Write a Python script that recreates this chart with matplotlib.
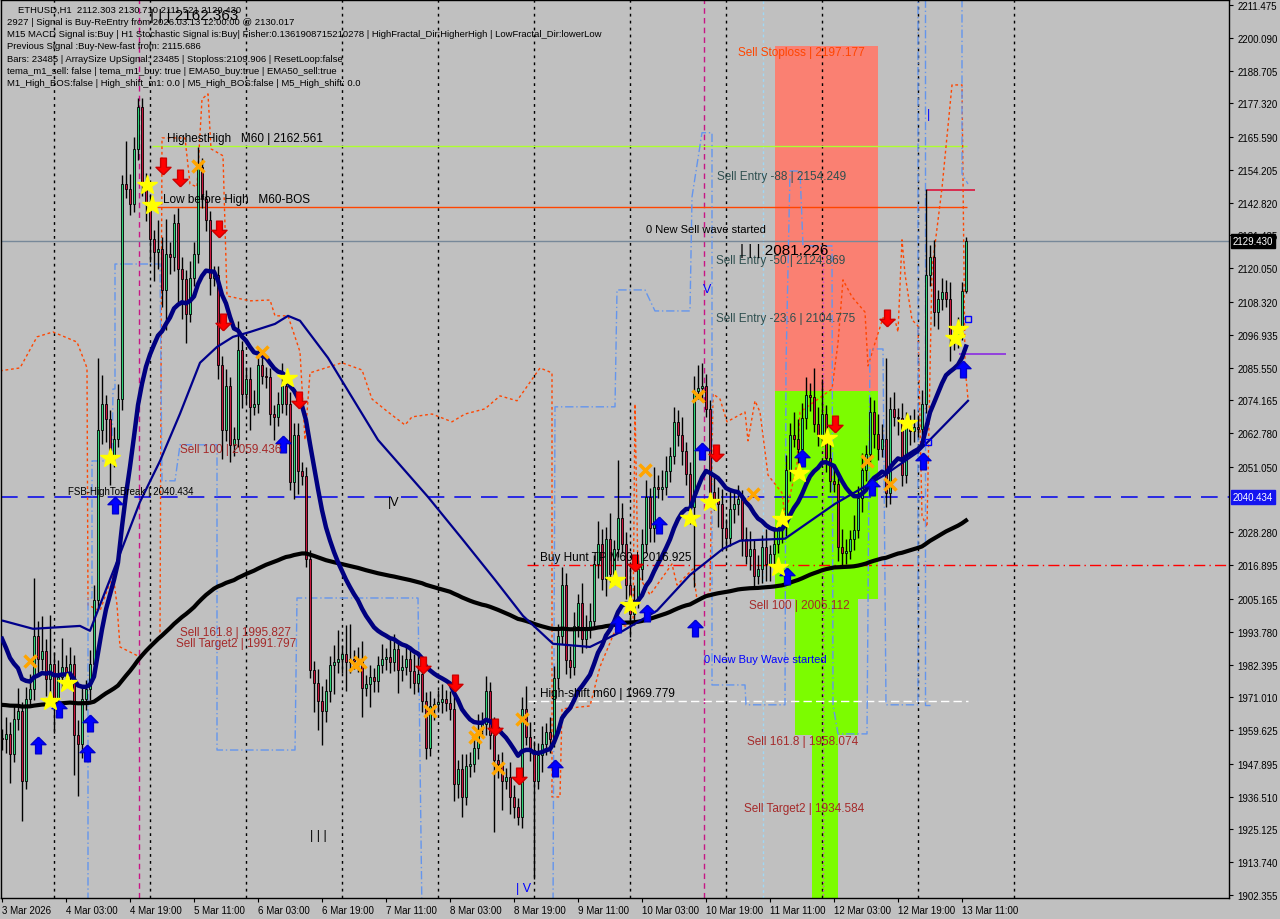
import numpy as np
import pandas as pd
import matplotlib
matplotlib.use('Agg')
import matplotlib.pyplot as plt
import matplotlib.transforms as mtransforms
from matplotlib.patches import Rectangle

plt.rcParams['font.family'] = ['Liberation Sans', 'DejaVu Sans']

BG = '#C0C0C0'

# ETHUSD H1 - first bar on the chart is 3 Mar 2026 11:00
start_time = '2026-03-03 11:00'
first_open = 1957.0

closes = [
    1956.6, 1958.3, 1951.4, 1963.5, 1966.3, 1942.0, 1970.5, 1974.0, 1992.4, 1984.4,
    1987.2, 1977.4, 1982.6, 1970.5, 1978.1, 1981.6, 1979.2, 1982.6, 1958.0, 1954.9,
    1970.5, 1974.0, 1982.6, 2004.9, 2063.9, 2072.9, 2067.7, 2054.9, 2060.8, 2074.7,
    2149.3, 2147.6, 2142.4, 2161.5, 2176.1, 2150.0, 2142.4, 2130.2, 2125.7, 2126.8,
    2112.5, 2125.0, 2124.0, 2135.8, 2119.8, 2116.4, 2104.2, 2116.7, 2125.0, 2155.3,
    2144.1, 2136.8, 2116.7, 2117.7, 2086.5, 2063.9, 2079.2, 2058.7, 2060.8, 2091.7,
    2076.4, 2081.6, 2071.9, 2072.9, 2086.5, 2082.7, 2082.3, 2069.5, 2068.4, 2072.9,
    2079.2, 2072.9, 2045.9, 2062.2, 2049.7, 2047.9, 2019.1, 1980.6, 1976.0, 1969.8,
    1966.3, 1973.3, 1982.3, 1983.3, 1984.4, 1986.1, 1983.3, 1984.4, 1983.7, 1984.4,
    1974.3, 1975.7, 1978.1, 1976.7, 1982.3, 1984.4, 1985.1, 1983.3, 1987.9, 1980.6,
    1981.6, 1984.4, 1980.2, 1976.0, 1979.2, 1969.8, 1953.5, 1968.1, 1968.8, 1969.5,
    1970.5, 1969.1, 1967.0, 1941.0, 1946.2, 1936.5, 1947.2, 1947.9, 1953.5, 1960.1,
    1961.8, 1973.3, 1958.0, 1949.3, 1947.9, 1942.0, 1943.4, 1936.5, 1933.0, 1929.5,
    1967.0, 1957.3, 1952.8, 1942.0, 1951.0, 1954.9, 1959.0, 1956.6, 1977.8, 1992.4,
    2010.1, 1984.0, 1981.6, 1995.8, 2003.8, 1991.3, 1995.5, 1997.6, 2017.4, 2024.3,
    2012.2, 2026.1, 2013.9, 2022.6, 2033.4, 2024.3, 2010.1, 2000.0, 2004.9, 2015.6,
    2024.3, 2040.6, 2029.9, 2044.1, 2043.4, 2044.1, 2049.7, 2054.9, 2066.7, 2062.2,
    2056.6, 2048.6, 2037.2, 2077.5, 2078.5, 2079.2, 2071.2, 2042.4, 2039.9, 2038.2,
    2029.9, 2026.4, 2036.5, 2038.2, 2039.9, 2026.1, 2020.2, 2022.6, 2013.2, 2015.6,
    2023.3, 2017.4, 2020.8, 2024.3, 2029.5, 2030.2, 2050.0, 2062.2, 2060.8, 2057.3,
    2068.1, 2076.1, 2075.4, 2066.0, 2062.2, 2069.5, 2054.2, 2046.2, 2045.2, 2023.3,
    2021.2, 2021.9, 2026.1, 2029.2, 2040.3, 2050.0, 2055.6, 2070.2, 2062.5, 2057.3,
    2060.8, 2042.0, 2071.2, 2068.4, 2068.1, 2048.3, 2066.0, 2063.6, 2065.0, 2064.3,
    2072.9, 2117.7, 2124.0, 2104.9, 2109.4, 2111.8, 2109.4, 2095.9, 2095.5, 2099.0,
    2112.3, 2129.43,
]

# wick length above / below the body, in price units
wick_up = [
    3, 6, 4, 5, 8, 3, 4, 5, 20, 5, 12, 4, 17, 4, 6, 10, 4, 6, 3, 5,
    4, 3, 5, 5, 25, 10, 3, 3, 4, 5, 3, 15, 5, 4, 3, 3, 3, 3, 3, 10,
    4, 12, 4, 3, 5, 4, 3, 6, 4, 7, 3, 3, 3, 3, 3, 3, 6, 3, 4, 10,
    3, 4, 4, 5, 6, 4, 3, 3, 3, 4, 8, 3, 4, 4, 4, 3, 3, 3, 3, 5,
    5, 4, 3, 6, 10, 3, 10, 12, 3, 4, 6, 3, 4, 3, 3, 5, 3, 6, 5, 3,
    4, 5, 3, 6, 6, 4, 3, 5, 2, 4, 5, 3, 4, 6, 3, 5, 4, 4, 3, 5,
    4, 5, 3, 6, 2, 4, 3, 5, 4, 3, 4, 8, 5, 3, 4, 6, 3, 5, 4, 4,
    6, 4, 5, 5, 3, 7, 4, 6, 3, 8, 5, 4, 9, 3, 20, 5, 4, 6, 5, 3,
    5, 6, 3, 7, 4, 6, 5, 3, 5, 4, 6, 3, 4, 5, 8, 8, 4, 3, 6, 4,
    5, 3, 6, 4, 5, 3, 4, 6, 3, 5, 4, 6, 3, 5, 4, 6, 5, 4, 8, 7,
    5, 6, 4, 10, 6, 12, 3, 5, 4, 3, 6, 4, 3, 5, 4, 6, 3, 5, 4, 7,
    5, 28, 4, 6, 3, 5, 4, 3, 6, 4, 5, 30, 4, 6, 3, 5, 4, 6, 3, 4,
    3, 1.3,
]
wick_dn = [
    4, 5, 10, 3, 4, 14, 3, 3, 4, 6, 4, 6, 5, 12, 3, 4, 4, 5, 14, 18,
    5, 4, 4, 3, 3, 5, 8, 10, 4, 3, 4, 3, 4, 3, 4, 5, 6, 8, 10, 6,
    6, 14, 6, 5, 12, 14, 10, 3, 3, 3, 3, 4, 6, 3, 5, 10, 4, 6, 4, 3,
    5, 3, 8, 3, 3, 3, 4, 4, 8, 3, 3, 4, 3, 6, 8, 3, 3, 3, 10, 10,
    12, 4, 4, 10, 4, 5, 10, 4, 3, 4, 10, 3, 8, 4, 4, 3, 4, 4, 3, 8,
    4, 3, 6, 4, 3, 4, 4, 3, 5, 3, 4, 3, 4, 6, 5, 7, 3, 4, 3, 4,
    3, 4, 5, 25, 5, 10, 3, 6, 4, 3, 4, 3, 4, 34, 3, 6, 4, 5, 3, 4,
    3, 5, 4, 3, 4, 5, 3, 4, 3, 5, 4, 6, 3, 4, 3, 3, 5, 8, 4, 3,
    4, 3, 5, 5, 3, 4, 3, 4, 3, 4, 5, 4, 6, 28, 3, 4, 3, 5, 4, 8,
    8, 4, 3, 5, 4, 6, 3, 5, 4, 3, 5, 6, 6, 4, 3, 5, 3, 4, 3, 5,
    3, 4, 5, 3, 4, 3, 5, 4, 3, 5, 5, 4, 3, 4, 3, 5, 4, 3, 5, 4,
    3, 5, 4, 3, 6, 4, 3, 5, 4, 3, 6, 3, 4, 5, 6, 4, 3, 8, 4, 3,
    4, 0.8,
]
assert len(closes) == len(wick_up) == len(wick_dn)

ema_fast_span, ema_fast_seed = 20, 1995.0
ema_slow_span, ema_slow_seed = 200, 1968.5

# slower MA (thin navy), bar / price
slow_ma_bar = [0.25, 7.75, 19.5, 22, 24.5, 29.5, 34.5, 39.5, 44.5, 49.5, 53.75, 57.75, 62, 68.25,
               71.5, 74.5, 81.5, 94, 106.5, 115, 123.25, 130.25, 137.75, 147, 155.25, 163.75, 172,
               180.25, 184.5, 195.75, 208.25, 220.75, 229, 241.5]
slow_ma_val = [1997.6, 1994.8, 1995.8, 1994.1, 2003.1, 2020.8, 2038.9, 2053.1, 2069.5, 2087.2,
               2092.7, 2096.2, 2097.9, 2100.7, 2103.5, 2101.8, 2088.9, 2060.4, 2040.6, 2026.1,
               2011.8, 1999.3, 1989.6, 1988.5, 1994.1, 2001.1, 2013.5, 2022.6, 2025.4, 2026.1,
               2038.2, 2048.3, 2056.2, 2074.0]

# horizontal levels
bid = 2129.430
highest_high = 2162.561
low_before_high = 2141.3
fsb_level = 2040.434
buy_hunt_tp = 2016.895
high_shift = 1969.779
crimson_level = 2147.3
purple_level = 2090.3

# signal zones: bar from, bar to, price low, price high
zone_b0 = [193.25, 193.25, 198.25, 202.5]
zone_b1 = [219.0, 219.0, 214.0, 209.0]
zone_lo = [2077.4, 2005.112, 1958.074, 1890.0]
zone_hi = [2197.177, 2077.4, 2005.112, 1958.074]
zone_col = ['#FA8072', '#7CFC00', '#7CFC00', '#7CFC00']

# channel line (orange-red dotted), bar / price
chan_bar = [-0.5, 4.5, 8.75, 12.75, 18.75, 21.25, 21.5, 24.5, 27.75, 28.75, 29.5, 34.5, 37, 39.5,
            40, 45.75, 47, 48.75, 50, 51.5, 52.25, 55.25, 56.25, 62, 67, 68.25, 71.5, 74.5, 75.75,
            77, 85, 90, 92.5, 96.5, 100.75, 102.5, 107.5, 112.5, 115.75, 120.75, 124.5, 128.75,
            134.5, 137.5, 137.5, 139.5, 140, 147, 149.5, 153.75, 157.75, 158.25, 159, 162, 167.5,
            168.75, 172.75, 173.75, 177, 177.75, 179.5, 181.25, 185.75, 186.5, 188.25, 189.5,
            191.5, 195, 195.75, 197.5, 198.75, 199.5, 207.5, 209, 210.25, 212.5, 215.75, 216.5,
            218.25, 220.25, 223.25, 224, 225, 225.75, 227.5, 229, 230, 231.25, 232.5, 235, 237.5,
            240, 240.75, 241.5]
chan_val = [2084.4, 2085.4, 2096.2, 2097.9, 2094.4, 2085.4, 2003.1, 2001.0, 2013.9, 2003.1, 1988.5,
            1985.0, 1988.5, 1992.3, 2165.3, 2165.3, 2149.3, 2148.3, 2178.8, 2180.6, 2161.5, 2159.1,
            2110.4, 2108.7, 2109.0, 2103.5, 2103.5, 2091.0, 2060.4, 2083.7, 2087.2, 2084.7, 2074.6,
            2070.1, 2065.6, 2068.4, 2069.4, 2066.7, 2069.4, 2071.2, 2075.7, 2074.0, 2085.4, 2083.7,
            1936.4, 1936.4, 1967.0, 1968.0, 1981.6, 1995.8, 1995.8, 2072.9, 2013.5, 2006.6, 2017.3,
            2010.0, 2015.6, 2004.8, 2007.3, 2076.4, 2074.6, 2066.7, 2070.1, 2060.1, 2074.0, 2070.1,
            2048.2, 2042.0, 2034.0, 2044.1, 2052.1, 2070.1, 2078.1, 2094.1, 2116.0, 2110.1, 2104.8,
            2086.1, 2094.1, 2102.8, 2102.1, 2097.9, 2129.9, 2118.0, 2102.1, 2100.0, 2034.0, 2030.2,
            2119.8, 2147.9, 2183.7, 2183.7, 2086.1, 2074.6]

# step line (light blue dash-dot), segments of bar / price
step_bar = [[21.5, 21.5, 22.5, 22.5, 27.5, 27.75, 28.25, 28.25, 39.5, 40, 43.25, 44.5, 53.75, 53.75,
             73.25, 73.75, 104, 105],
            [137.75, 138.25, 153.25, 153.75, 160.75, 163.25, 172, 172.5, 175, 177.5, 177.5, 185.75,
             186, 195.75, 196, 197, 199.5, 200.25, 207.5, 207.75, 209, 216.25, 217, 220.25, 221,
             229, 229],
            [230.75, 230.75, 232],
            [240, 240, 241.5]]
step_val = [[1895, 2005.5, 2005.5, 2053.1, 2053.1, 2078.1, 2078.1, 2121.5, 2121.5, 2046.2, 2046.2,
             2058.7, 2058.7, 1952.7, 1952.7, 2005.5, 2005.5, 1895],
            [1895, 2071.9, 2071.9, 2112.5, 2112.5, 2105.2, 2105.2, 2144.8, 2167.1, 2167.1, 1975.3,
             1975.3, 1968.4, 1968.4, 2086.1, 2153.8, 2153.8, 2127.8, 2127.8, 1968.4, 1958.3,
             1958.3, 2092.0, 2092.0, 1968.4, 1968.4, 2220],
            [2220, 1968.4, 1968.4],
            [2220, 2152.8, 2149.3]]

# signal markers, bar / price
star_bar = [12, 16.25, 27, 36.25, 37.5, 71.25, 153.25, 157, 172, 177, 194, 195, 199.25, 206.25,
            226.25, 238.25, 239]
star_val = [1969.7, 1976.0, 2054.2, 2149.0, 2142.0, 2082.0, 2011.8, 2003.1, 2033.3, 2038.9, 2016.3,
            2033.0, 2049.0, 2061.1, 2066.3, 2095.8, 2098.9]
cross_bar = [7, 49, 65, 88.25, 89.5, 107, 118.25, 119, 124, 130, 160.75, 174, 187.75, 216.25, 222]
cross_val = [1983.6, 2155.6, 2091.0, 1982.3, 1983.3, 1966.3, 1957.2, 1959.0, 1946.5, 1963.5, 2050.0,
             2075.7, 2041.6, 2053.1, 2045.1]
sell_bar = [40.25, 44.5, 54.25, 55.25, 74.25, 105.25, 113.25, 123.25, 129.25, 158.25, 178.5, 208.25,
            221.25]
sell_val = [2155.6, 2151.4, 2133.7, 2101.4, 2074.3, 1982.3, 1976.0, 1960.7, 1943.7, 2017.7, 2055.9,
            2066.0, 2102.8]
buy_bar = [9, 14.25, 22, 21.25, 28.25, 70.25, 138.25, 154, 161.25, 164.25, 173.25, 175, 196.25, 200,
           217.5, 230.25, 240.25]
buy_val = [1954.5, 1967.0, 1962.1, 1951.7, 2037.8, 2059.0, 1946.5, 1996.5, 2000.3, 2030.9, 1995.1,
           2056.6, 2013.2, 2054.2, 2044.1, 2053.1, 2085.1]
box_bar = [231.5, 241.5]
box_val = [2059.7, 2102.4]

# vertical markers
magenta_bars = [34.25, 175.5]
cyan_bar = 190.25
violet_bar = 205.25

# right scale (the 2039.665 step sits under the FSB price box)
yticks = [2211.475, 2200.090, 2188.705, 2177.320, 2165.590, 2154.205, 2142.820, 2131.435, 2120.050,
          2108.320, 2096.935, 2085.550, 2074.165, 2062.780, 2051.050, 2028.280, 2016.895,
          2005.165, 1993.780, 1982.395, 1971.010, 1959.625, 1947.895, 1936.510, 1925.125, 1913.740,
          1902.355]

header = [
    'ETHUSD,H1  2112.303 2130.710 2111.521 2129.430',
    '2927 | Signal is Buy-ReEntry from 2026.03.13 12:00:00 @ 2130.017',
    'M15 MACD Signal is:Buy | H1 Stochastic Signal is:Buy| Fisher:0.1361908715210278 | '
    'HighFractal_Dir:HigherHigh | LowFractal_Dir:lowerLow',
    'Previous Signal :Buy-New-fast from: 2115.686',
    'Bars: 23485 | ArraySize UpSignal: 23485 | Stoploss:2109.906 | ResetLoop:false',
    'tema_m1_sell: false | tema_m1_buy: true | EMA50_buy:true | EMA50_sell:true',
    'M1_High_BOS:false | High_shift_m1: 0.0 | M5_High_BOS:false | M5_High_shift: 0.0',
]

# zone / level labels: text, bar, price, colour
zone_labels = [
    ('Sell Stoploss | 2197.177', 184.0, 2197.177, '#FF4500'),
    ('Sell Entry -88 | 2154.249', 178.75, 2154.249, '#2F4F4F'),
    ('Sell Entry -50 | 2124.869', 178.5, 2124.869, '#2F4F4F'),
    ('Sell Entry -23.6 | 2104.775', 178.5, 2104.775, '#2F4F4F'),
    ('Sell 100 | 2059.436', 44.5, 2059.436, '#A52A2A'),
    ('Sell 161.8 | 1995.827', 44.5, 1995.827, '#A52A2A'),
    ('Sell Target2 | 1991.797', 43.5, 1991.797, '#A52A2A'),
    ('Sell 100 | 2005.112', 186.75, 2005.112, '#A52A2A'),
    ('Sell 161.8 | 1958.074', 186.25, 1958.074, '#A52A2A'),
    ('Sell Target2 | 1934.584', 185.5, 1934.584, '#A52A2A'),
]
line_labels = [
    ('HighestHigh   M60 | 2162.561', 41.25, highest_high, 8.5),
    ('Low before High   M60-BOS', 40.25, low_before_high, 8.5),
    ('FSB-HighToBreak | 2040.434', 16.5, fsb_level, 7),
    ('Buy Hunt TP M60 | 2016.925', 134.5, buy_hunt_tp, 8.5),
    ('High-shift m60 | 1969.779', 134.5, high_shift, 8.5),
]
misc_labels = [
    ('0 New Sell wave started', 161.0, 2133.7, 'black', 8),
    ('| | | 2081.226', 184.5, 2126.4, 'black', 11),
    ('0 New Buy Wave started', 175.5, 1984.3, '#0000FF', 8),
    ('| | | 2162.363', 37.0, 2208.0, 'black', 11),
    ('|V', 96.5, 2038.9, 'black', 9),
    ('| | |', 77.0, 1923.2, 'black', 9),
    ('| V', 128.5, 1904.8, '#0000FF', 9),
    ('V', 175.25, 2112.8, '#0000FF', 9),
    ('|', 231.25, 2173.6, '#0000FF', 9),
]


def ema(values, span, seed):
    alpha = 2.0 / (span + 1)
    out = []
    prev = seed
    for v in values:
        prev = prev + alpha * (v - prev)
        out.append(prev)
    return np.array(out)


n = len(closes)
idx = np.arange(n)
c = np.array(closes)
o = np.array([first_open] + closes[:-1])
hi = np.maximum(o, c) + np.array(wick_up)
lo = np.minimum(o, c) - np.array(wick_dn)
times = pd.date_range(start_time, periods=n + 13, freq='h')

fig = plt.figure(figsize=(12.8, 9.2), dpi=100, facecolor=BG)
ax = fig.add_axes([1 / 1280, 21 / 920, 1228 / 1280, 898 / 920])
ax.set_facecolor(BG)
ax.set_xlim(-0.25, 306.75)
ax.set_ylim(1901.3, 2213.2)

# zones
for b0, b1, p0, p1, col in zip(zone_b0, zone_b1, zone_lo, zone_hi, zone_col):
    ax.add_patch(Rectangle((b0, p0), b1 - b0, p1 - p0, facecolor=col, edgecolor='none', zorder=1))

# day separators
for i, t in enumerate(times):
    if t.hour == 0:
        ax.axvline(i, color='black', lw=1, ls=(0, (2, 3)), zorder=2)
for b in magenta_bars:
    ax.axvline(b, color='#C71585', lw=1, ls=(0, (4, 3)), zorder=2)
ax.axvline(cyan_bar, color='#9FD8F5', lw=1, ls=(0, (2, 2)), zorder=2)
ax.vlines(violet_bar, 1890, 2127.8, color='#DA44DA', lw=1, ls=(0, (1, 2)), zorder=2)

# horizontal levels
ax.axhline(bid, color='#778899', lw=1, zorder=2)
ax.axhline(fsb_level, color='#1010E8', lw=1.2, ls=(0, (10, 6)), zorder=2)
ax.hlines(highest_high, 37.5, 241.25, color='#ADFF2F', lw=1, zorder=2)
ax.hlines(low_before_high, 37.5, 241.25, color='#FF4500', lw=1, zorder=2)
ax.hlines(buy_hunt_tp, 131.25, 306.75, color='#FF0000', lw=1, ls=(0, (8, 3, 1, 3)), zorder=2)
ax.hlines(high_shift, 131.5, 241.5, color='white', lw=1, ls=(0, (6, 3)), zorder=2)
ax.hlines(crimson_level, 231.25, 243.25, color='#DC143C', lw=1.2, zorder=2)
ax.hlines(purple_level, 239.25, 251.0, color='#8A2BE2', lw=1.2, zorder=2)

# channel lines
ax.plot(chan_bar, chan_val, color='#FF4500', lw=1, ls=(0, (2, 2)), zorder=2)
for sb, sv in zip(step_bar, step_val):
    ax.plot(sb, sv, color='#6495ED', lw=1, ls=(0, (6, 2, 1, 2)), zorder=2)

# candles
up = c >= o
ax.vlines(idx, lo, hi, color='black', lw=1, zorder=3)
body_lo = np.minimum(o, c)
body_h = np.maximum(np.abs(c - o), 0.4)
ax.bar(idx[up], body_h[up], bottom=body_lo[up], width=0.7, color='#2ED47A',
       edgecolor='black', lw=0.6, zorder=4)
ax.bar(idx[~up], body_h[~up], bottom=body_lo[~up], width=0.7, color='#C8143C',
       edgecolor='black', lw=0.6, zorder=4)

# moving averages
ax.plot(idx, ema(closes, ema_slow_span, ema_slow_seed), color='black', lw=3, zorder=5)
ax.plot(slow_ma_bar, slow_ma_val, color='#00008B', lw=1.6, zorder=5)
ax.plot(idx, ema(closes, ema_fast_span, ema_fast_seed), color='#000080', lw=3.2, zorder=5)

# signal markers
up_arrow = [(0, 1), (-0.9, 0.1), (-0.35, 0.1), (-0.35, -1), (0.35, -1), (0.35, 0.1), (0.9, 0.1), (0, 1)]
down_arrow = [(x, -y) for x, y in up_arrow]
ax.plot(buy_bar, buy_val, ls='none', marker=up_arrow, ms=12, color='#0000FF', mec='#0000CC', zorder=7)
ax.plot(sell_bar, sell_val, ls='none', marker=down_arrow, ms=12, color='#FF0000', mec='#CC0000', zorder=7)
ax.plot(star_bar, star_val, ls='none', marker='*', ms=15, color='#FFFF00', mec='#FFFF00', zorder=7)
ax.plot(cross_bar, cross_val, ls='none', marker='x', ms=8, mew=2.5, color='#FFA500', zorder=7)
ax.plot(box_bar, box_val, ls='none', marker='s', ms=5, mfc='none', mec='#0000FF', mew=1, zorder=7)

# texts
for txt, b, p, col in zone_labels:
    ax.text(b, p, txt, color=col, fontsize=8.5, ha='left', va='top', zorder=8)
for txt, b, p, fs in line_labels:
    ax.text(b, p + 0.6, txt, color='black', fontsize=fs, ha='left', va='bottom', zorder=8)
for txt, b, p, col, fs in misc_labels:
    ax.text(b, p, txt, color=col, fontsize=fs, ha='left', va='center', zorder=8)

for k, line in enumerate(header):
    fig.text((18 if k == 0 else 7) / 1280, 1 - (10 + 12.3 * k) / 920, line, fontsize=6.8,
             ha='left', va='center', color='black')

# axes
for s in ax.spines.values():
    s.set_color('black')
    s.set_linewidth(1)
ax.yaxis.tick_right()
ax.set_yticks(yticks)
ax.set_yticklabels([f'{v:.3f}' for v in yticks])
ax.tick_params(axis='y', direction='out', length=3, labelsize=7, pad=3, colors='black')

xt = list(range(0, n, 16))
xl = []
for i in xt:
    t = times[i]
    xl.append(f'{t.day} {t:%b} {t.year}' if i == 0 else f'{t.day} {t:%b %H:%M}')
ax.set_xticks(xt)
ax.set_xticklabels(xl)
for lbl in ax.get_xticklabels():
    lbl.set_ha('left')
ax.tick_params(axis='x', direction='out', length=3, labelsize=7, pad=2, colors='black')

# price boxes on the right scale
trans = mtransforms.blended_transform_factory(ax.transAxes, ax.transData)
ax.text(1.003, bid, f'{bid:.3f}', transform=trans, color='white', fontsize=7, ha='left', va='center',
        bbox=dict(boxstyle='square,pad=0.2', fc='black', ec='black'), clip_on=False, zorder=10)
ax.text(1.003, fsb_level, f'{fsb_level:.3f}', transform=trans, color='white', fontsize=7, ha='left',
        va='center', bbox=dict(boxstyle='square,pad=0.2', fc='#1414F0', ec='#1414F0'),
        clip_on=False, zorder=10)

fig.savefig('out.png', dpi=100, facecolor=BG)
